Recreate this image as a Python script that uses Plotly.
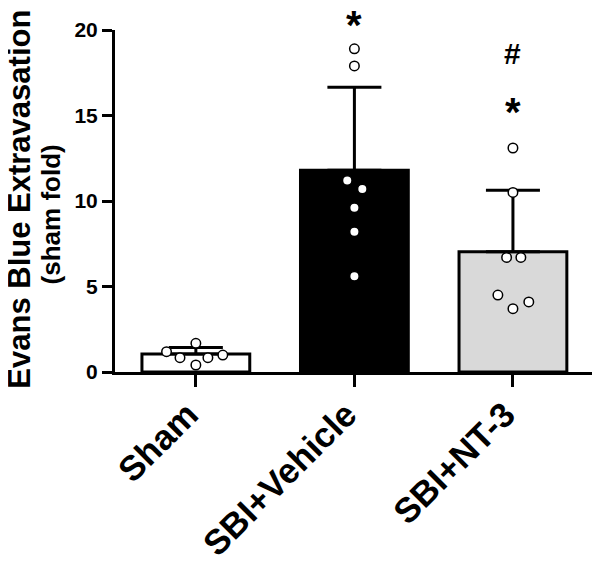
import plotly.graph_objects as go

# ---- data ----
categories = ["Sham", "SBI+Vehicle", "SBI+NT-3"]
bar_means = [1.05, 11.8, 7.03]
bar_sd = [0.38, 4.85, 3.6]

sham_pts = [1.68, 1.19, 0.84, 0.84, 0.99, 0.41]
sham_jitter = [0.0, -0.185, -0.10, 0.076, 0.17, 0.0]
vehicle_pts = [18.9, 17.9, 11.2, 10.7, 9.6, 8.2, 5.6]
vehicle_jitter = [0.0, 0.0, -0.045, 0.05, 0.0, 0.0, 0.0]
nt3_pts = [13.1, 10.5, 6.7, 6.7, 4.5, 3.7, 4.1]
nt3_jitter = [0.0, 0.0, -0.04, 0.05, -0.095, 0.0, 0.10]

sig_x = [1, 2, 2]
sig_y = [20.3, 18.62, 15.2]
sig_text = ["*", "#", "*"]

y_max = 20
y_ticks = [0, 5, 10, 15, 20]
y_title_1 = "Evans Blue Extravasation"
y_title_2 = "(sham fold)"

# ---- figure ----
FONT = "Liberation Sans, Arial, sans-serif"
bar_colors = ["#ffffff", "#000000", "#d9d9d9"]
xs = list(range(len(categories)))
x_range = [-0.51, 2.505]

fig = go.Figure()
fig.add_trace(go.Bar(
    x=xs, y=bar_means, width=0.68,
    marker=dict(color=bar_colors, line=dict(color="black", width=3)),
    error_y=dict(type="data", symmetric=False, array=bar_sd,
                 arrayminus=[0] * len(bar_sd), color="black",
                 thickness=3, width=27),
    showlegend=False,
))

for gi, (pts, jit) in enumerate([(sham_pts, sham_jitter),
                                  (vehicle_pts, vehicle_jitter),
                                  (nt3_pts, nt3_jitter)]):
    fig.add_trace(go.Scatter(
        x=[gi + j for j in jit], y=pts, mode="markers",
        marker=dict(symbol="circle", size=9.5, color="white",
                    line=dict(color="black", width=1.5)),
        showlegend=False, cliponaxis=False,
    ))

# significance marks as annotations (paper coords derived from data)
for sx, sy, st in zip(sig_x, sig_y, sig_text):
    fig.add_annotation(
        text=st, xref="paper", yref="paper",
        x=(sx - x_range[0]) / (x_range[1] - x_range[0]), y=sy / y_max,
        showarrow=False, xanchor="center", yanchor="middle",
        font=dict(family=FONT, size=40 if st == "*" else 30,
                  color="black", weight="bold"),
    )

# page body has an 8px margin -> figure is 8px smaller and shifted
fig.update_layout(
    width=592, height=556,
    margin=dict(l=107, r=7, t=22, b=192),
    plot_bgcolor="white", paper_bgcolor="white",
    font=dict(family=FONT, color="black"),
)
fig.update_xaxes(
    range=x_range, tickvals=xs, ticktext=categories,
    tickangle=-45, ticks="outside", ticklen=12, tickwidth=3, tickcolor="black",
    showline=True, linewidth=3, linecolor="black", showgrid=False,
    zeroline=False, tickfont=dict(family=FONT, size=35, weight="bold"),
    ticklabelshift=-8, ticklabelstandoff=-7,
    automargin=False,
)
fig.update_yaxes(
    range=[0, y_max], tickvals=y_ticks, ticks="outside", ticklen=10,
    tickwidth=3, tickcolor="black", showline=True, linewidth=3,
    linecolor="black", showgrid=False, zeroline=False,
    tickfont=dict(family=FONT, size=21, weight="bold"), automargin=False,
)
fig.add_annotation(text=y_title_1, xref="paper", yref="paper",
                   x=-0.2, y=0.505, textangle=-90, showarrow=False,
                   xanchor="center", yanchor="middle",
                   font=dict(family=FONT, size=31, weight="bold"))
fig.add_annotation(text=y_title_2, xref="paper", yref="paper",
                   x=-0.133, y=0.462, textangle=-90, showarrow=False,
                   xanchor="center", yanchor="middle",
                   font=dict(family=FONT, size=26, weight="bold"))

fig.write_html("out.html")
